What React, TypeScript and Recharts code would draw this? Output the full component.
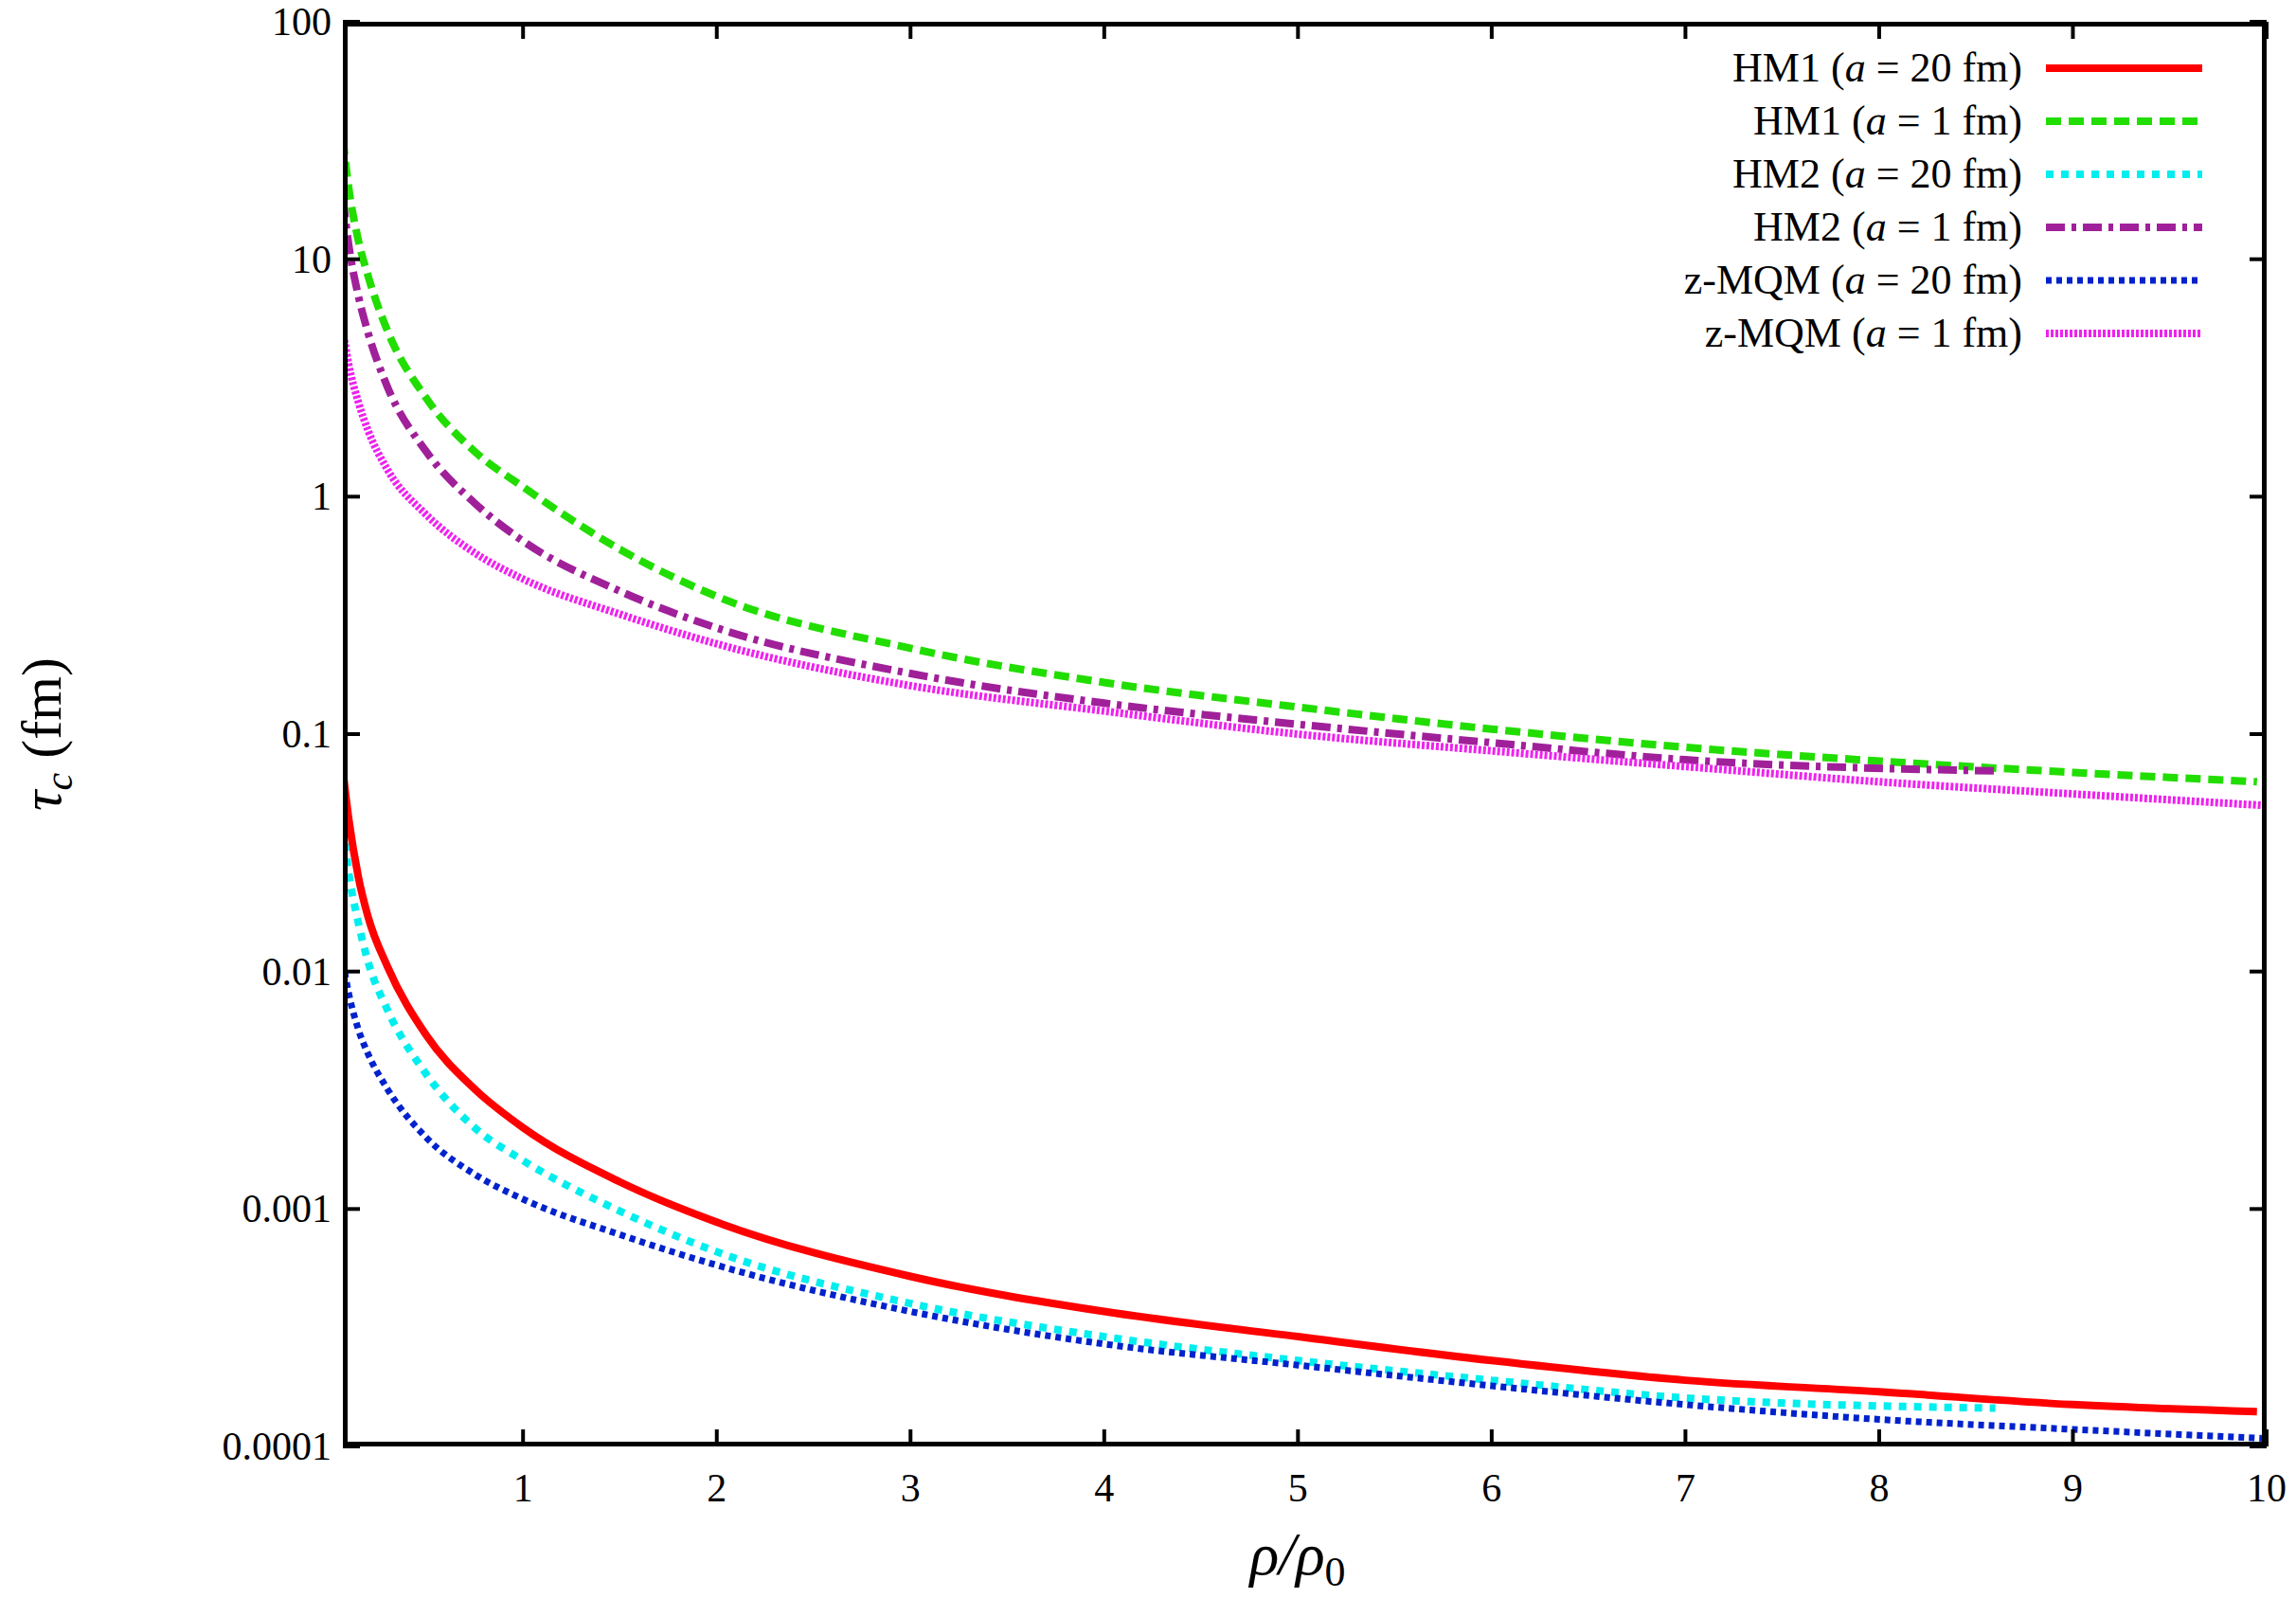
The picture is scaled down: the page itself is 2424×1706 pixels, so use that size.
import { LineChart, Line, XAxis, YAxis } from 'recharts'

const rho = [0.07, 0.1, 0.15, 0.2, 0.3, 0.5, 0.75, 1, 1.5, 2, 3, 4, 5, 6, 7, 8, 9, 9.95]
const hm1a20 = [0.07, 0.044, 0.025, 0.017, 0.0105, 0.0054, 0.0032, 0.0022, 0.0013, 0.00088, 0.00052, 0.00037, 0.00029, 0.00023, 0.00019, 0.00017, 0.00015, 0.00014]
const hm1a1 = [32, 20, 12, 8.5, 5, 2.6, 1.55, 1.1, 0.6, 0.38, 0.23, 0.165, 0.13, 0.105, 0.088, 0.077, 0.069, 0.063]
const hm2a20 = [0.04, 0.026, 0.016, 0.011, 0.0069, 0.0037, 0.0022, 0.0016, 0.00098, 0.00066, 0.0004, 0.00029, 0.00023, 0.00019, 0.00016, 0.000145]
const hm2a1 = [18, 11.5, 7, 4.9, 2.9, 1.55, 0.94, 0.65, 0.4, 0.28, 0.18, 0.135, 0.11, 0.092, 0.078, 0.07]
const hm2Rho = [0.07, 0.1, 0.15, 0.2, 0.3, 0.5, 0.75, 1, 1.5, 2, 3, 4, 5, 6, 7, 8.6]
const zmqmRho = [0.07, 0.1, 0.15, 0.2, 0.3, 0.5, 0.75, 1, 1.5, 2, 3, 4, 5, 6, 7, 8, 9, 10]
const zmqmA20 = [0.011, 0.0081, 0.0057, 0.0045, 0.0032, 0.002, 0.0014, 0.0011, 0.00078, 0.00058, 0.00037, 0.00027, 0.00022, 0.00018, 0.00015, 0.00013, 0.000118, 0.000108]
const zmqmA1 = [5, 3.6, 2.5, 1.9, 1.3, 0.84, 0.58, 0.45, 0.32, 0.24, 0.16, 0.125, 0.1, 0.085, 0.073, 0.063, 0.056, 0.05]

const xTicks = [1, 2, 3, 4, 5, 6, 7, 8, 9, 10]
const yTicks = [0.0001, 0.001, 0.01, 0.1, 1, 10, 100]
const yLabels = ['0.0001', '0.001', '0.01', '0.1', '1', '10', '100']

const zip = (xs: number[], ys: number[]) => xs.map((x, i) => ({ x, y: ys[i] }))

const series = [
  { name: 'HM1', a: '20', data: zip(rho, hm1a20), color: '#ff0000', dash: undefined, w: 8 },
  { name: 'HM1', a: '1', data: zip(rho, hm1a1), color: '#22dd00', dash: '16 8', w: 8 },
  { name: 'HM2', a: '20', data: zip(hm2Rho, hm2a20), color: '#00eeee', dash: '8 8', w: 8 },
  { name: 'HM2', a: '1', data: zip(hm2Rho, hm2a1), color: '#a0209a', dash: '20 7 5 7', w: 8 },
  { name: 'z-MQM', a: '20', data: zip(zmqmRho, zmqmA20), color: '#0022cc', dash: '6 5', w: 7 },
  { name: 'z-MQM', a: '1', data: zip(zmqmRho, zmqmA1), color: '#ee22ee', dash: '3 2', w: 8 },
]

const FONT = '"Liberation Serif", "DejaVu Serif", serif'

const XTick = (p: any) => (
  <g>
    <line x1={p.x} x2={p.x} y1={p.y} y2={p.y - 18} stroke="#000" strokeWidth={4} />
    <line x1={p.x} x2={p.x} y1={23} y2={41} stroke="#000" strokeWidth={4} />
    <text x={p.x} y={p.y + 58} textAnchor="middle" fontSize={42} fontFamily={FONT}>{p.payload.value}</text>
  </g>
)

const YTick = (p: any) => {
  const i = yTicks.indexOf(p.payload.value)
  return (
    <g>
      <line x1={p.x} x2={p.x + 18} y1={p.y} y2={p.y} stroke="#000" strokeWidth={4} />
      <line x1={2393} x2={2375} y1={p.y} y2={p.y} stroke="#000" strokeWidth={4} />
      <text x={p.x - 12} y={p.y + 14} textAnchor="end" fontSize={42} fontFamily={FONT}>{yLabels[i]}</text>
    </g>
  )
}

export default function App() {
  return (
    <div style={{ position: 'relative', width: 2424, height: 1706, margin: -8, background: '#fff', fontFamily: FONT }}>
      <LineChart width={2424} height={1706} margin={{ top: 23, right: 31, bottom: 0, left: 0 }}>
        <XAxis type="number" dataKey="x" domain={[0.07, 10]} ticks={xTicks} allowDataOverflow
          height={179} tickSize={0} tickMargin={0} tick={<XTick />} axisLine={false} />
        <YAxis type="number" dataKey="y" scale="log" domain={[0.0001, 100]} ticks={yTicks} allowDataOverflow
          width={362} tickSize={0} tickMargin={0} tick={<YTick />} axisLine={false} />
        {series.map((s, i) => (
          <Line key={i} data={s.data} dataKey="y" type="monotone" dot={false} stroke={s.color}
            strokeWidth={s.w} strokeDasharray={s.dash} isAnimationActive={false} />
        ))}
      </LineChart>
      <div style={{ position: 'absolute', left: 362, top: 23, width: 2031, height: 1504, border: '5px solid #000', boxSizing: 'border-box', pointerEvents: 'none' }} />
      <svg style={{ position: 'absolute', left: 0, top: 0 }} width={2424} height={1706}>
        {series.map((s, i) => (
          <g key={i}>
            <text x={2135} y={86 + i * 56} textAnchor="end" fontSize={44} fontFamily={FONT}>
              {s.name} (<tspan fontStyle="italic">a</tspan> = {s.a} fm)
            </text>
            <line x1={2160} x2={2325} y1={72 + i * 56} y2={72 + i * 56} stroke={s.color} strokeWidth={s.w} strokeDasharray={s.dash} />
          </g>
        ))}
        <text x={1370} y={1662} textAnchor="middle" fontSize={64} fontFamily={FONT} fontStyle="italic">
          ρ/ρ<tspan fontStyle="normal" fontSize={44} dy={12}>0</tspan>
        </text>
        <text transform="translate(64,775) rotate(-90)" textAnchor="middle" fontSize={60} fontFamily={FONT}>
          <tspan fontStyle="italic">τ</tspan><tspan fontStyle="italic" fontSize={42} dy={12}>c</tspan><tspan dy={-12}> (fm)</tspan>
        </text>
      </svg>
    </div>
  )
}
